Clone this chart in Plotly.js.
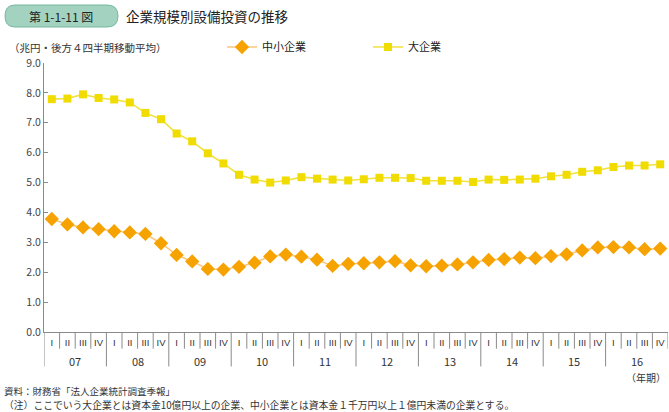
<!DOCTYPE html>
<html><head><meta charset="utf-8">
<script src="https://cdn.plot.ly/plotly-3.0.1.min.js"></script>
<style>html,body{margin:0;padding:0;background:#fff}#chart{width:669px;height:412px}</style>
</head><body><div id="chart"></div>
<script>
const years = ['07','08','09','10','11','12','13','14','15','16'];
const quarters = ['I','II','III','IV'];
const smallFirms = [3.78,3.60,3.50,3.44,3.37,3.33,3.28,2.97,2.58,2.36,2.11,2.09,2.18,2.32,2.53,2.59,2.52,2.42,2.21,2.28,
  2.30,2.33,2.37,2.23,2.20,2.22,2.26,2.33,2.41,2.44,2.49,2.47,2.54,2.60,2.73,2.83,2.84,2.83,2.77,2.79];
const largeFirms = [7.79,7.81,7.95,7.83,7.78,7.68,7.33,7.12,6.64,6.38,5.98,5.64,5.26,5.10,5.00,5.07,5.18,5.13,5.10,5.07,
  5.11,5.16,5.16,5.15,5.06,5.06,5.06,5.02,5.10,5.09,5.10,5.13,5.21,5.26,5.36,5.41,5.52,5.57,5.57,5.61];

const xIdx = [], qLabels = [];
years.forEach((y, yi) => quarters.forEach((q, qi) => { xIdx.push(yi*4+qi); qLabels.push(q); }));

const FONT = '"Noto Sans CJK JP", "Noto Sans", sans-serif';
const AX = '#8a8a8a';
const M = {l: 44, r: 1, t: 63, b: 80};
const W = 669 - M.l - M.r, H = 412 - M.t - M.b;
const px = x => (x - M.l) / W;
const py = y => (412 - M.b - y) / H;

const traces = [
  {x: xIdx, y: smallFirms, name: '中小企業', type: 'scatter', mode: 'lines+markers',
   line: {color: '#fbc77e', width: 1.6}, marker: {symbol: 'diamond', size: 11, color: '#f6a200'}},
  {x: xIdx, y: largeFirms, name: '大企業', type: 'scatter', mode: 'lines+markers',
   line: {color: '#f2e23a', width: 1.6}, marker: {symbol: 'square', size: 8, color: '#f0dc00'}}
];

const shapes = [];
const n = xIdx.length;
for (let i = 0; i <= n; i++) {
  const yb = (i % 4 === 0 && i < n) ? -0.128 : -0.062;
  shapes.push({type: 'line', xref: 'x', yref: 'paper', x0: i - 0.5, x1: i - 0.5, y0: 0, y1: yb,
    line: {color: AX, width: 1}});
}
const P = (x, y) => `${px(x)},${py(y)}`;
shapes.push({type: 'path', xref: 'paper', yref: 'paper', fillcolor: '#a3d3c0', line: {color: '#74b89f', width: 1},
  path: `M ${P(15,5)} L ${P(107,5)} Q ${P(118,5)} ${P(118,16)} Q ${P(118,27)} ${P(107,27)} L ${P(15,27)} Q ${P(5,27)} ${P(5,16)} Q ${P(5,5)} ${P(15,5)} Z`});

const annotations = [];
years.forEach((y, yi) => annotations.push({x: yi*4 + 1.5, xref: 'x', y: py(361), yref: 'paper',
  text: y, showarrow: false, yanchor: 'middle', font: {family: FONT, size: 11, color: '#333'}}));
const txt = (x, y, text, size, anchor, color) => ({x: px(x), y: py(y), xref: 'paper', yref: 'paper', text,
  showarrow: false, xanchor: anchor, yanchor: 'middle', borderpad: 0, font: {family: FONT, size, color: color || '#333'}});
annotations.push(
  txt(61, 16, '第 1-1-11 図', 12, 'center', '#222'),
  txt(125, 16, '企業規模別設備投資の推移', 13.5, 'left', '#222'),
  txt(8, 48, '（兆円・後方４四半期移動平均）', 10.5, 'left'),
  txt(667, 377, '（年期）', 10, 'right'),
  txt(3, 391.5, '資料：財務省「法人企業統計調査季報」', 9.5, 'left'),
  txt(3, 404.5, '（注）ここでいう大企業とは資本金10億円以上の企業、中小企業とは資本金１千万円以上１億円未満の企業とする。', 9.8, 'left')
);

const layout = {
  width: 669, height: 412, margin: M,
  paper_bgcolor: '#fff', plot_bgcolor: '#fff',
  font: {family: FONT, size: 10, color: '#333'},
  showlegend: true,
  legend: {orientation: 'h', x: px(222), xanchor: 'left', y: py(47), yanchor: 'middle',
    font: {family: FONT, size: 11, color: '#222'}, itemwidth: 30, entrywidth: 101, entrywidthmode: 'pixels',
    tracegroupgap: 0, bgcolor: 'rgba(0,0,0,0)', traceorder: 'normal'},
  xaxis: {range: [-0.5, n - 0.5], tickmode: 'array', tickvals: xIdx, ticktext: qLabels,
    showgrid: false, zeroline: false, showline: true, linecolor: AX, linewidth: 1,
    ticks: '', tickfont: {family: 'Liberation Sans, sans-serif', size: 9.5, color: '#333'}, ticklabelstandoff: 2,
    fixedrange: true},
  yaxis: {range: [0, 9], dtick: 1, tickformat: '.1f', showgrid: false, zeroline: false,
    showline: true, linecolor: AX, linewidth: 1, ticks: 'inside', ticklen: 4, tickcolor: AX,
    tickfont: {family: FONT, size: 10.5, color: '#444'}, fixedrange: true},
  shapes, annotations
};

Plotly.newPlot('chart', traces, layout, {displayModeBar: false, staticPlot: true});
</script></body></html>
